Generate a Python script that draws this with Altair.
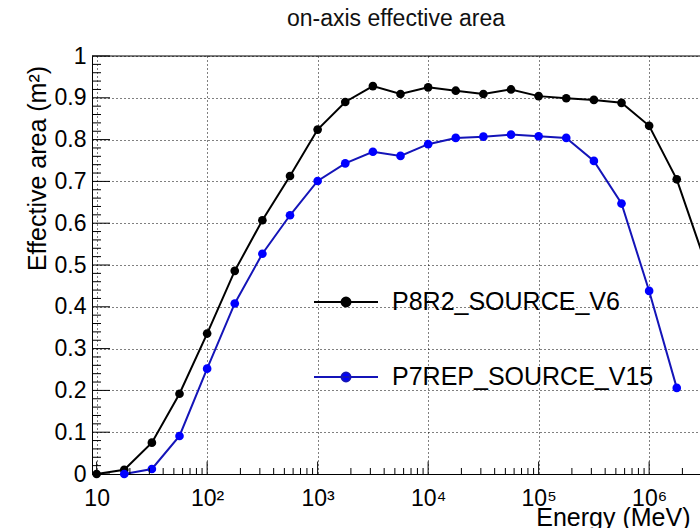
import altair as alt
import pandas as pd

# Energy grid (MeV), four bins per decade
energy = [10, 17.78, 31.62, 56.23, 100, 177.8, 316.2, 562.3,
          1000, 1778, 3162, 5623, 1.0e4, 1.778e4, 3.162e4, 5.623e4,
          1.0e5, 1.778e5, 3.162e5, 5.623e5, 1.0e6, 1.778e6, 3.162e6]

# Effective area (m^2) for each event class
p8r2_area = [0.000, 0.010, 0.075, 0.192, 0.336, 0.486, 0.607, 0.713,
             0.824, 0.890, 0.928, 0.909, 0.925, 0.917, 0.909, 0.920,
             0.904, 0.899, 0.895, 0.888, 0.833, 0.705, 0.513]
p7rep_energy = energy[1:22]
p7rep_area = [0.000, 0.012, 0.091, 0.252, 0.408, 0.527, 0.619, 0.701,
              0.743, 0.771, 0.761, 0.789, 0.804, 0.807, 0.812, 0.808,
              0.804, 0.749, 0.647, 0.438, 0.206]

names = ["P8R2_SOURCE_V6", "P7REP_SOURCE_V15"]
line_colors = ["#000000", "#1414b8"]
marker_colors = ["#000000", "#0000ff"]

# Axis tick positions
y_major = [0, 0.1, 0.2, 0.3, 0.4, 0.5, 0.6, 0.7, 0.8, 0.9, 1.0]
y_minor = [round(i * 0.02, 2) for i in range(51) if i % 5]
x_major = [10, 100, 1e3, 1e4, 1e5, 1e6]
x_minor = [m * d for d in [10, 100, 1e3, 1e4, 1e5, 1e6] for m in range(2, 10)]

W, H = 608, 418
X_MIN, X_MAX = 9.08, 2.886e6
FONT = "Liberation Sans"

df = pd.concat([
    pd.DataFrame({"energy": energy, "area": p8r2_area, "irf": names[0]}),
    pd.DataFrame({"energy": p7rep_energy, "area": p7rep_area, "irf": names[1]}),
])

xscale = alt.Scale(type="log", domain=[X_MIN, X_MAX], nice=False)
yscale = alt.Scale(domain=[0, 1], nice=False, zero=False)

sup = "\u2070\u00b9\u00b2\u00b3\u2074\u2075\u2076\u2077\u2078\u2079"
x_label_expr = (
    "datum.value < 15 ? '10' : '10' + substring('" + sup + "', "
    "round(log(datum.value) / LN10), round(log(datum.value) / LN10) + 1)"
)

x_axis = alt.Axis(
    values=x_major, labelExpr=x_label_expr, grid=True, gridDash=[1, 3],
    gridColor="#000000", gridWidth=1, ticks=False, tickSize=0,
    domainColor="#000000", domainWidth=1, labelFont=FONT, labelFontSize=23,
    labelColor="#000000", labelPadding=13, labelFlush=False, labelOverlap=False,
    title="Energy (MeV)", titleFont=FONT, titleFontSize=25, titleFontWeight="normal",
    titleColor="#000000", titleX=598, titleY=51.5, titleAlign="right",
    titleBaseline="alphabetic",
)
y_axis = alt.Axis(
    values=y_major, format="~g", grid=True, gridDash=[1, 3], gridColor="#000000",
    gridWidth=1, ticks=False, tickSize=0, domainColor="#000000", domainWidth=1,
    labelFont=FONT, labelFontSize=23, labelColor="#000000", labelPadding=6,
    labelFlush=False, labelOverlap=False,
    title="Effective area (m\u00b2)", titleFont=FONT, titleFontSize=25,
    titleFontWeight="normal", titleColor="#000000", titleAngle=270,
    titleX=-47, titleY=112, titleAlign="center", titleBaseline="alphabetic",
)

legend_symbol = ("M-1,0H1M-0.14,0A0.14,0.14,0,1,0,0.14,0"
                 "A0.14,0.14,0,1,0,-0.14,0Z")
legend = alt.Legend(
    orient="none", legendX=221, legendY=213, title=None, padding=0,
    symbolType=legend_symbol, symbolSize=4096, symbolStrokeWidth=2,
    labelFont=FONT, labelFontSize=25, labelColor="#000000", labelOffset=13,
    labelLimit=500, rowPadding=29,
)

X = alt.X("energy:Q", scale=xscale, axis=x_axis)
Y = alt.Y("area:Q", scale=yscale, axis=y_axis)

lines = alt.Chart(df).mark_line(strokeWidth=2).encode(
    x=X, y=Y,
    stroke=alt.Stroke("irf:N", scale=alt.Scale(domain=names, range=line_colors),
                      legend=legend),
    detail="irf:N",
)
points = alt.Chart(df).mark_circle(size=75, opacity=1, strokeWidth=0).encode(
    x=X, y=Y,
    fill=alt.Fill("irf:N", scale=alt.Scale(domain=names, range=marker_colors),
                  legend=legend),
)

# Inward-pointing tick marks drawn from the tick position lists
y_major_ticks = alt.Chart(pd.DataFrame({"area": y_major})).mark_rule(
    color="#000000", strokeWidth=1).encode(y=Y, x=alt.value(0), x2=alt.value(18))
y_minor_ticks = alt.Chart(pd.DataFrame({"area": y_minor})).mark_rule(
    color="#000000", strokeWidth=1).encode(y=Y, x=alt.value(0), x2=alt.value(9))
x_major_ticks = alt.Chart(pd.DataFrame({"energy": x_major})).mark_rule(
    color="#000000", strokeWidth=1).encode(
    x=X, y=alt.value(H - 12.5), y2=alt.value(H))
x_minor_ticks = alt.Chart(pd.DataFrame({"energy": [v for v in x_minor if v < X_MAX]})).mark_rule(
    color="#000000", strokeWidth=1).encode(
    x=X, y=alt.value(H - 6), y2=alt.value(H))

# Top edge of the frame
top_edge = alt.Chart(pd.DataFrame({"v": [0]})).mark_rule(
    color="#000000", strokeWidth=1).encode(
    x=alt.value(0), x2=alt.value(W), y=alt.value(0))

chart = alt.layer(
    lines, points, y_major_ticks, y_minor_ticks, x_major_ticks, x_minor_ticks,
    top_edge,
).properties(
    width=W, height=H,
    title=alt.TitleParams(
        "on-axis effective area", anchor="middle", frame="group", font=FONT,
        fontSize=23, fontWeight="normal", color="#111111",
        baseline="alphabetic", offset=18, dy=22,
    ),
    padding={"left": 92, "top": 56, "right": 0, "bottom": 54},
    autosize=alt.AutoSizeParams(type="none"),
    background="#ffffff",
).configure_view(stroke=None)

chart.save("out.html", embed_options={"renderer": "svg", "actions": False})
